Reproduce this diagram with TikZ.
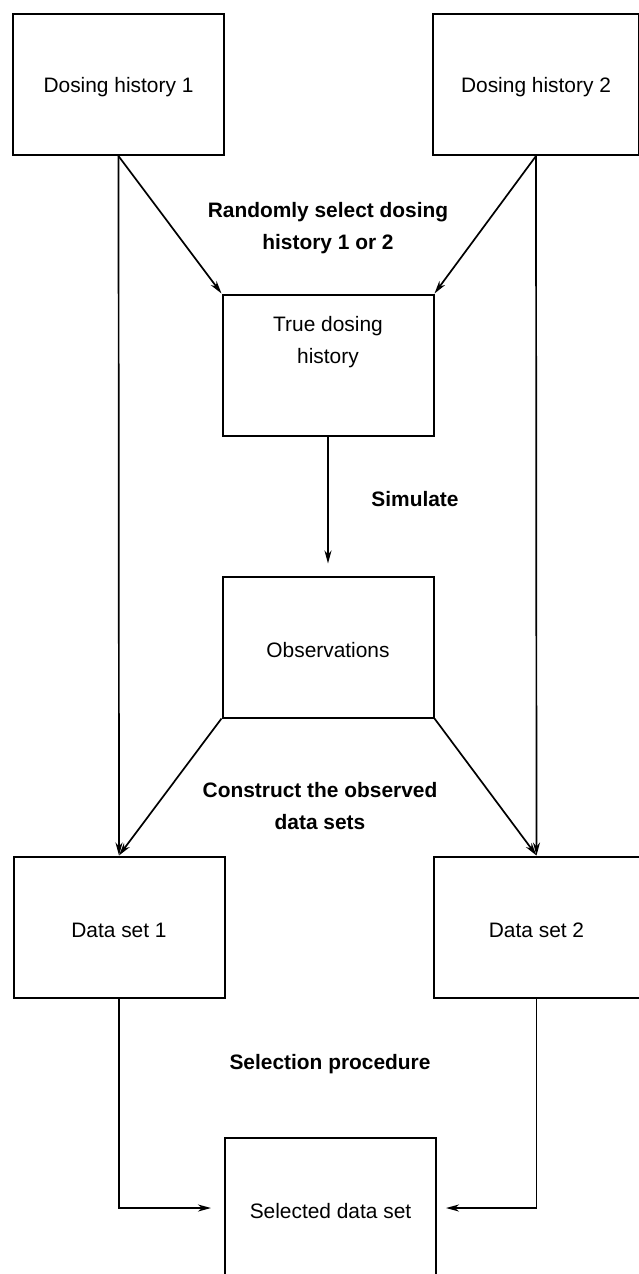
\documentclass[tikz,border=0pt]{standalone}
\usepackage{fontspec}
\setmainfont{Liberation Sans}
\usetikzlibrary{arrows.meta}
\begin{document}
\begin{tikzpicture}[x=1pt,y=-1pt,
  boxnode/.style={draw=black, line width=2pt, rectangle, minimum width=211pt, minimum height=141pt,
    inner sep=0pt, align=center, font=\fontsize{20.9}{32}\selectfont, text height=21pt},
  lbl/.style={align=center, font=\fontsize{20.9}{32}\selectfont\bfseries, inner sep=0pt},
  conn/.style={line width=1.7pt, -{Stealth[length=13pt,width=7pt,inset=4pt]}}]
\useasboundingbox (0,0) rectangle (639,1274);
\begin{scope}
\clip (0,0) rectangle (639,1274);
\node[boxnode] (dh1) at (118.5,84.5) {Dosing history 1};
\node[boxnode, minimum width=206pt] (dh2) at (536,84.5) {Dosing history 2};
\node[boxnode, text height=15.3pt, text depth=18pt] (tdh) at (328,365) {True dosing\\history};
\node[boxnode] (obs) at (328,647) {Observations};
\node[boxnode] (ds1) at (119,927) {Data set 1};
\node[boxnode, minimum width=206pt] (ds2) at (536.5,927) {Data set 2};
\node[boxnode] (sel) at (330.5,1208) {Selected data set};
\end{scope}

\node[lbl] (l1) at (328,228) {Randomly select dosing\\history 1 or 2};
\node[lbl] (l2) at (415,499) {Simulate};
\node[lbl] (l3) at (320,806) {Construct the observed\\data sets};
\node[lbl] (l4) at (330,1064) {Selection procedure};

\draw[conn] (dh1.south) -- (tdh.north west);
\draw[conn] (dh2.south) -- (tdh.north east);
\draw[conn] (dh1.south) -- (ds1.north);
\draw[conn] (dh2.south) -- (ds2.north);
\draw[conn, shorten >=12pt] (tdh.south) -- (obs.north);
\draw[conn] (obs.south west) -- (ds1.north);
\draw[conn] (obs.south east) -- (ds2.north);
\draw[conn, shorten >=13pt] (ds1.south) |- (sel.west);
\draw[conn, shorten >=9pt] (ds2.south) |- (sel.east);
\end{tikzpicture}
\end{document}
